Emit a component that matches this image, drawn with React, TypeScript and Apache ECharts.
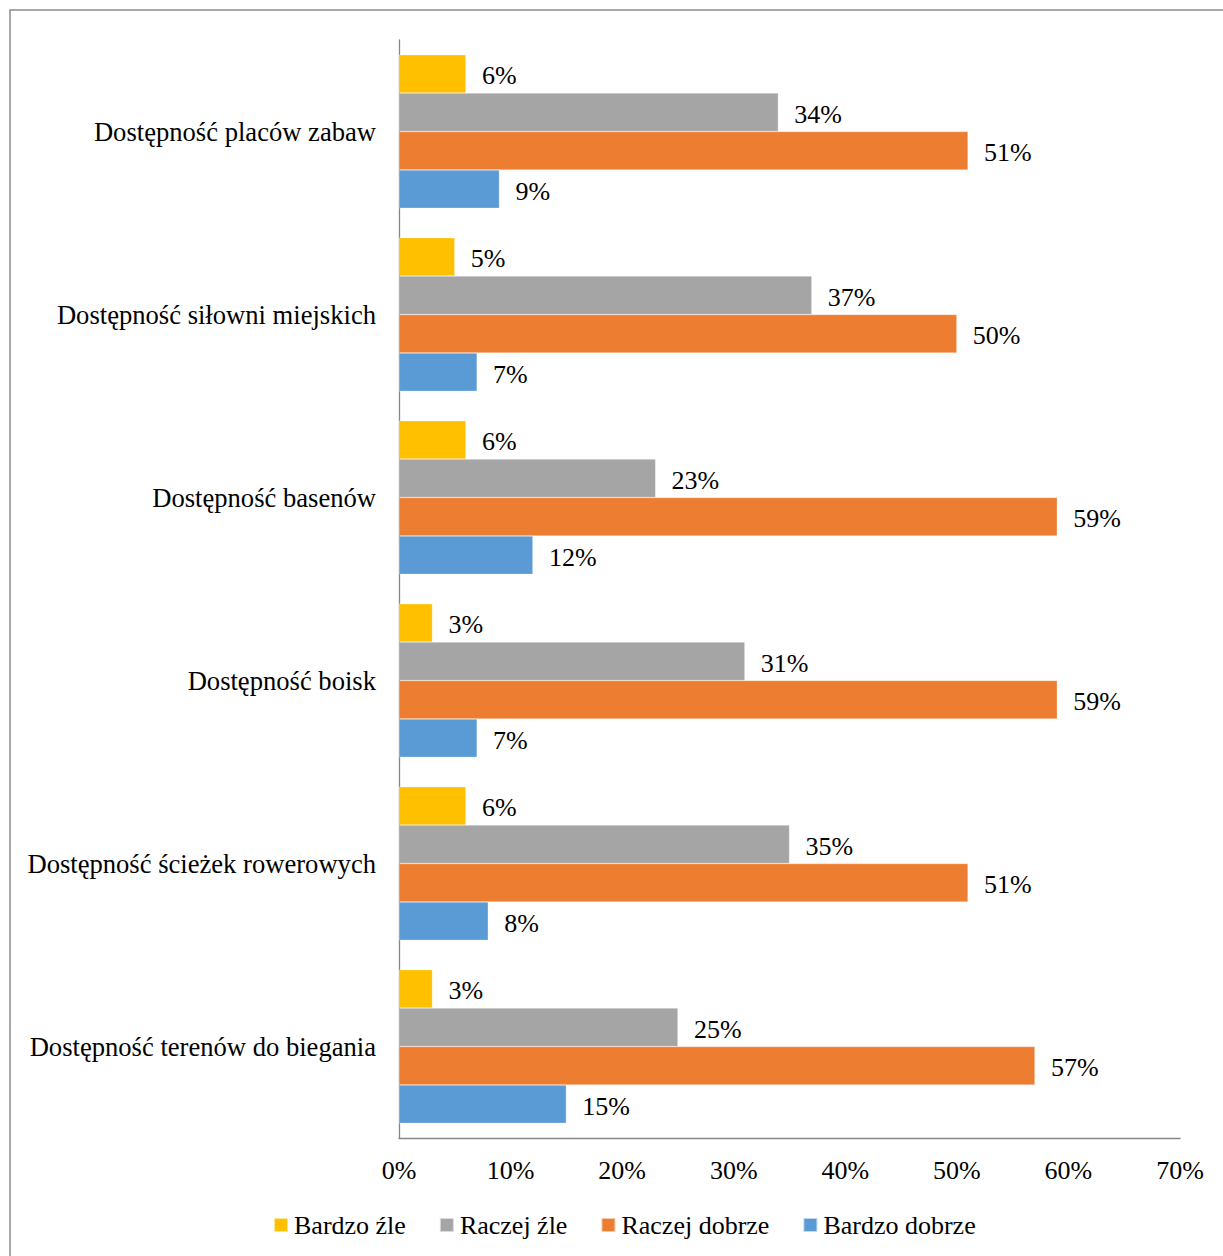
import React, { useEffect, useRef } from "react";
import * as echarts from "echarts";

const categories = [
  "Dostępność placów zabaw",
  "Dostępność siłowni miejskich",
  "Dostępność basenów",
  "Dostępność boisk",
  "Dostępność ścieżek rowerowych",
  "Dostępność terenów do biegania",
];
const seriesNames = ["Bardzo źle", "Raczej źle", "Raczej dobrze", "Bardzo dobrze"];
const bardzoZle = [6, 5, 6, 3, 6, 3];
const raczejZle = [34, 37, 23, 31, 35, 25];
const raczejDobrze = [51, 50, 59, 59, 51, 57];
const bardzoDobrze = [9, 7, 12, 7, 8, 15];
const colors = ["#FFC000", "#A5A5A5", "#ED7D31", "#5B9BD5"];
const xTicks = [0, 10, 20, 30, 40, 50, 60, 70];

const FONT = "Liberation Serif";
const FS = 26;

export default function App() {
  const ref = useRef<HTMLDivElement>(null);
  useEffect(() => {
    document.body.style.margin = "0";
    if (!ref.current) return;
    const chart = echarts.init(ref.current, null, { renderer: "svg" });
    const values = [bardzoZle, raczejZle, raczejDobrze, bardzoDobrze];
    chart.setOption({
      animation: false,
      backgroundColor: "#ffffff",
      textStyle: { fontFamily: FONT },
      graphic: [
        {
          type: "rect",
          shape: { x: 10, y: 10, width: 1240, height: 1270 },
          style: { fill: "none", stroke: "#8c8c8c", lineWidth: 1.5 },
          silent: true,
        },
      ],
      grid: { left: 399, top: 40, right: 43, bottom: 118, containLabel: false },
      legend: {
        top: 1207,
        left: 268,
        data: seriesNames,
        itemWidth: 14,
        itemHeight: 14,
        itemGap: 33,
        icon: "rect",
        textStyle: { fontFamily: FONT, fontSize: FS, color: "#000", padding: [0, 0, 0, 1] },
      },
      xAxis: {
        type: "value",
        min: xTicks[0],
        max: xTicks[xTicks.length - 1],
        interval: 10,
        axisLine: { show: true, lineStyle: { color: "#868686", width: 1.3 } },
        axisTick: { show: false },
        splitLine: { show: false },
        axisLabel: {
          formatter: (v: number) => `${v}%`,
          fontFamily: FONT,
          fontSize: FS,
          color: "#000",
          margin: 19,
        },
      },
      yAxis: {
        type: "category",
        inverse: true,
        data: categories,
        axisLine: { show: true, lineStyle: { color: "#868686", width: 1.3 } },
        axisTick: { show: false },
        axisLabel: { fontFamily: FONT, fontSize: 26.6, color: "#000", margin: 23 },
      },
      series: seriesNames.map((name, i) => ({
        name,
        type: "bar",
        data: values[i],
        itemStyle: { color: colors[i], borderColor: "rgba(255,255,255,0.6)", borderWidth: 0.5 },
        barGap: "0%",
        barCategoryGap: "16%",
        label: {
          show: true,
          position: "right",
          distance: 16,
          offset: [0, 2],
          formatter: "{c}%",
          fontFamily: FONT,
          fontSize: FS,
          color: "#000",
        },
      })),
    });
    return () => chart.dispose();
  }, []);
  return <div ref={ref} style={{ width: 1223, height: 1256 }} />;
}
